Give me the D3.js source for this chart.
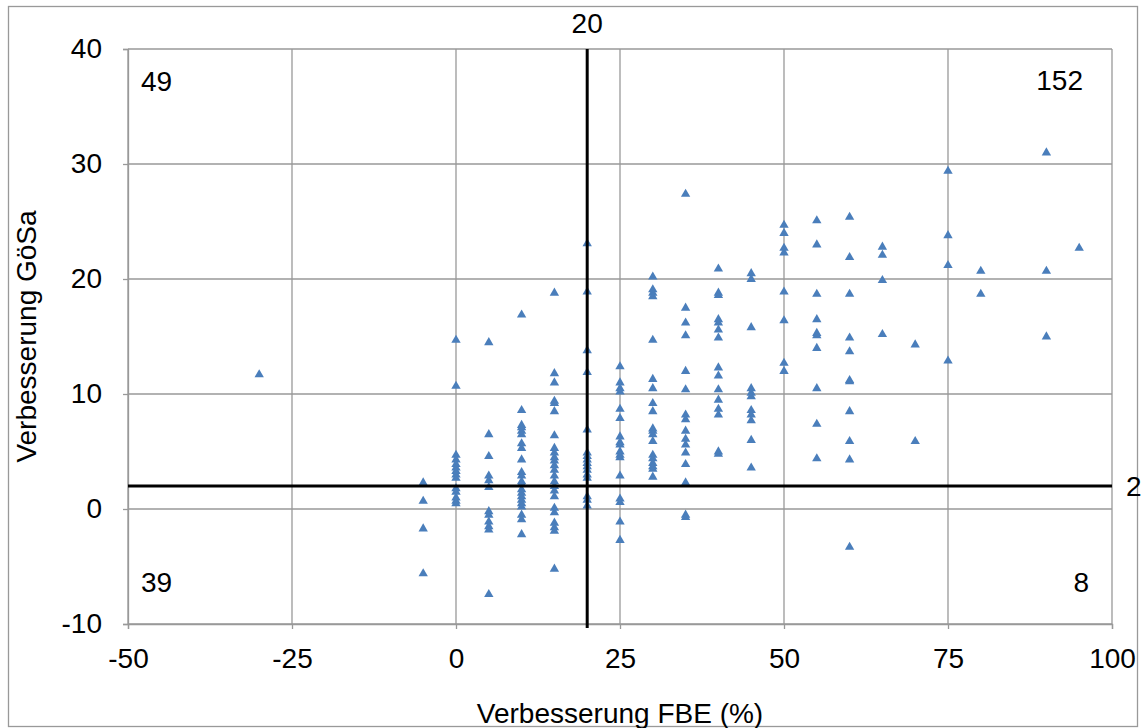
<!DOCTYPE html>
<html>
<head>
<meta charset="utf-8">
<script src="https://cdn.jsdelivr.net/npm/d3@7"></script>
<style>
  body { margin: 0; background: #fff; }
  svg { display: block; font-family: "Liberation Sans", Arial, Helvetica, sans-serif; }
  .axis text { font-size: 28px; fill: #000; }
  .axis path, .axis line { stroke: #999; stroke-width: 1.3; }
  .grid line { stroke: #999; stroke-width: 1.3; }
  .label { font-size: 28px; fill: #000; }
</style>
</head>
<body>
<svg width="1144" height="728"></svg>
<script>
const fbeLevels = [-30, -5, 0, 5, 10, 15, 20, 25, 30, 35, 40, 45, 50, 55, 60, 65, 70, 75, 80, 90, 95]
const gosaByLevel = [
  [11.8],
  [2.4, 0.8, -1.6, -5.5],
  [14.8, 10.8, 4.8, 4.4, 4.0, 3.7, 3.4, 3.1, 2.8, 1.9, 1.6, 1.1, 0.8, 0.6],
  [14.6, 6.6, 4.7, 3.0, 2.6, 2.0, -0.1, -0.4, -1.0, -1.4, -1.7, -7.3],
  [17.0, 8.7, 7.4, 7.2, 6.9, 6.6, 5.8, 5.4, 4.4, 3.3, 3.0, 2.5, 2.3, 1.8, 1.5, 1.2, 0.9, 0.6, 0.3, -0.4, -0.8, -2.1],
  [18.9, 11.9, 11.1, 9.5, 9.3, 8.6, 6.5, 5.4, 5.0, 4.6, 4.3, 3.9, 3.5, 3.0, 2.5, 2.1, 1.7, 1.2, 0.2, -0.2, -1.1, -1.5, -1.8, -5.1],
  [23.2, 19.0, 13.9, 12.0, 7.0, 5.0, 4.7, 4.4, 4.1, 3.8, 3.5, 3.1, 2.8, 1.2, 0.9, 0.4],
  [12.5, 11.1, 10.6, 10.3, 8.8, 8.0, 6.4, 5.9, 5.7, 5.1, 4.8, 4.6, 3.0, 1.0, 0.7, -1.0, -2.6],
  [20.3, 19.2, 18.9, 18.6, 14.8, 11.4, 10.6, 9.3, 8.6, 7.1, 6.9, 6.6, 6.0, 4.8, 4.5, 4.1, 3.8, 3.6, 2.9],
  [27.5, 17.6, 16.3, 15.2, 12.1, 10.5, 8.3, 7.9, 6.9, 6.2, 5.7, 5.0, 4.0, 2.4, -0.4, -0.6],
  [21.0, 18.9, 18.7, 16.6, 16.3, 15.7, 15.0, 12.4, 11.7, 10.5, 9.6, 8.8, 8.3, 5.1, 4.9],
  [20.6, 20.1, 15.9, 10.6, 10.2, 9.9, 8.7, 8.3, 7.8, 6.1, 3.7],
  [24.8, 24.1, 22.8, 22.4, 19.0, 16.5, 12.8, 12.1],
  [25.2, 23.1, 18.8, 16.6, 15.4, 15.2, 14.1, 10.6, 7.5, 4.5],
  [25.5, 22.0, 18.8, 15.0, 13.8, 11.3, 11.2, 8.6, 6.0, 4.4, -3.2],
  [22.9, 22.2, 20.0, 15.3],
  [14.4, 6.0],
  [29.5, 23.9, 21.3, 13.0],
  [20.8, 18.8],
  [31.1, 20.8, 15.1],
  [22.8]
]

const xTicks = [-50, -25, 0, 25, 50, 75, 100]
const yTicks = [-10, 0, 10, 20, 30, 40]

// threshold lines and the counts per quadrant
const xThreshold = 20
const yThreshold = 2
const quadrantCounts = { topLeft: 49, topRight: 152, bottomLeft: 39, bottomRight: 8 }

const points = []
fbeLevels.forEach((fbe, i) => {
  gosaByLevel[i].forEach(g => points.push({ fbe: fbe, gosa: g }))
})

const svg = d3.select("svg")

const x = d3.scaleLinear().domain([-50, 100]).range([128, 1112])
const y = d3.scaleLinear().domain([-10, 40]).range([624, 49])

// triangle centred on its bounding box, like the spreadsheet marker
const triangle = {
  draw(context, size) {
    const w = Math.sqrt(size * 4 / Math.sqrt(3))
    const h = w * Math.sqrt(3) / 2
    context.moveTo(0, -h / 2)
    context.lineTo(w / 2, h / 2)
    context.lineTo(-w / 2, h / 2)
    context.closePath()
  }
}

// outer frame
svg.append("rect")
  .attr("x", 8.5)
  .attr("y", 6.5)
  .attr("width", 1129)
  .attr("height", 720)
  .attr("fill", "none")
  .attr("stroke", "#999")
  .attr("stroke-width", 1.3)

// gridlines
const grid = svg.append("g").attr("class", "grid")
grid.selectAll("line.v")
  .data(xTicks)
  .enter()
  .append("line")
  .attr("class", "v")
  .attr("x1", d => x(d)).attr("x2", d => x(d))
  .attr("y1", y(40)).attr("y2", y(-10))
grid.selectAll("line.h")
  .data(yTicks)
  .enter()
  .append("line")
  .attr("class", "h")
  .attr("x1", x(-50)).attr("x2", x(100))
  .attr("y1", d => y(d)).attr("y2", d => y(d))

svg.append("g")
  .attr("class", "axis")
  .attr("transform", `translate(0, ${y(-10)})`)
  .call(d3.axisBottom(x).tickValues(xTicks).tickFormat(d => String(d)).tickSizeOuter(0).tickSize(5).tickPadding(19))

svg.append("g")
  .attr("class", "axis")
  .attr("transform", `translate(${x(-50)}, 0)`)
  .call(d3.axisLeft(y).tickValues(yTicks).tickFormat(d => String(d)).tickSizeOuter(0).tickSize(5).tickPadding(21))

// points
svg.append("g")
  .selectAll("path.pt")
  .data(points)
  .enter()
  .append("path")
  .attr("class", "pt")
  .attr("d", d3.symbol().type(triangle).size(38))
  .attr("transform", d => `translate(${x(d.fbe)}, ${y(d.gosa)})`)
  .attr("fill", "#4A7EBB")

// threshold lines
svg.append("line")
  .attr("x1", x(xThreshold)).attr("x2", x(xThreshold))
  .attr("y1", y(40)).attr("y2", y(-10) + 4)
  .attr("stroke", "#000").attr("stroke-width", 3)
svg.append("line")
  .attr("x1", x(-50)).attr("x2", x(100))
  .attr("y1", y(yThreshold)).attr("y2", y(yThreshold))
  .attr("stroke", "#000").attr("stroke-width", 3)

svg.append("text")
  .attr("class", "label")
  .attr("x", x(xThreshold))
  .attr("y", 33)
  .attr("text-anchor", "middle")
  .text(xThreshold)
svg.append("text")
  .attr("class", "label")
  .attr("x", 1126)
  .attr("y", y(yThreshold) + 10)
  .text(yThreshold)

// quadrant counts
svg.append("text").attr("class", "label").attr("x", 141).attr("y", 91).text(quadrantCounts.topLeft)
svg.append("text").attr("class", "label").attr("x", 1083).attr("y", 90).attr("text-anchor", "end").text(quadrantCounts.topRight)
svg.append("text").attr("class", "label").attr("x", 141).attr("y", 592).text(quadrantCounts.bottomLeft)
svg.append("text").attr("class", "label").attr("x", 1089).attr("y", 592).attr("text-anchor", "end").text(quadrantCounts.bottomRight)

// axis titles
svg.append("text")
  .attr("class", "label")
  .attr("x", 620)
  .attr("y", 723)
  .attr("text-anchor", "middle")
  .text("Verbesserung FBE (%)")
svg.append("text")
  .attr("class", "label")
  .attr("transform", "translate(36, 336.5) rotate(-90)")
  .attr("text-anchor", "middle")
  .text("Verbesserung GöSa")
</script>
</body>
</html>
